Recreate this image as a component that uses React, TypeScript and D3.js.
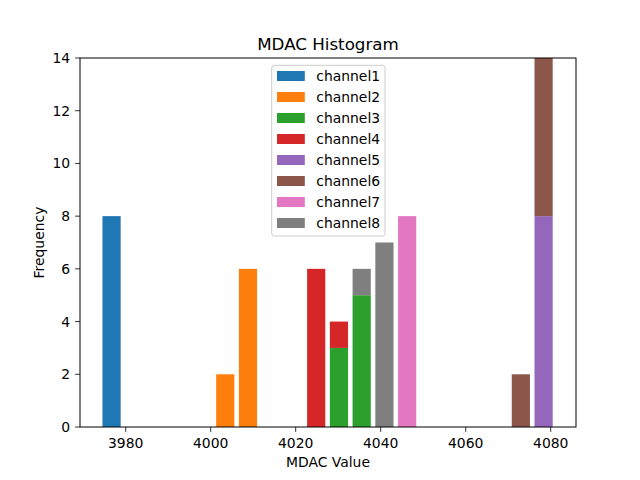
import * as d3 from "d3";

// histogram bin edges (20 bins)
const binEdges = [
  3974.0, 3979.35, 3984.7, 3990.05, 3995.4, 4000.75, 4006.1, 4011.45, 4016.8, 4022.15, 4027.5,
  4032.85, 4038.2, 4043.55, 4048.9, 4054.25, 4059.6, 4064.95, 4070.3, 4075.65, 4081.0,
];

const channels = [
  "channel1",
  "channel2",
  "channel3",
  "channel4",
  "channel5",
  "channel6",
  "channel7",
  "channel8",
];

// counts per bin for each channel
const channel1 = [8, 0, 0, 0, 0, 0, 0, 0, 0, 0, 0, 0, 0, 0, 0, 0, 0, 0, 0, 0];
const channel2 = [0, 0, 0, 0, 0, 2, 6, 0, 0, 0, 0, 0, 0, 0, 0, 0, 0, 0, 0, 0];
const channel3 = [0, 0, 0, 0, 0, 0, 0, 0, 0, 0, 3, 5, 0, 0, 0, 0, 0, 0, 0, 0];
const channel4 = [0, 0, 0, 0, 0, 0, 0, 0, 0, 6, 1, 0, 0, 0, 0, 0, 0, 0, 0, 0];
const channel5 = [0, 0, 0, 0, 0, 0, 0, 0, 0, 0, 0, 0, 0, 0, 0, 0, 0, 0, 0, 8];
const channel6 = [0, 0, 0, 0, 0, 0, 0, 0, 0, 0, 0, 0, 0, 0, 0, 0, 0, 0, 2, 6];
const channel7 = [0, 0, 0, 0, 0, 0, 0, 0, 0, 0, 0, 0, 0, 8, 0, 0, 0, 0, 0, 0];
const channel8 = [0, 0, 0, 0, 0, 0, 0, 0, 0, 0, 0, 1, 7, 0, 0, 0, 0, 0, 0, 0];

const counts = [channel1, channel2, channel3, channel4, channel5, channel6, channel7, channel8];

const xTicks = [3980, 4000, 4020, 4040, 4060, 4080];
const yTicks = [0, 2, 4, 6, 8, 10, 12, 14];

const colors = [
  "#1f77b4",
  "#ff7f0e",
  "#2ca02c",
  "#d62728",
  "#9467bd",
  "#8c564b",
  "#e377c2",
  "#7f7f7f",
];

const W = 640;
const H = 480;
const margin = { top: 58, right: 64, bottom: 53, left: 80 };
const font = "DejaVu Sans, sans-serif";

export default function App() {
  const innerW = W - margin.left - margin.right;
  const innerH = H - margin.top - margin.bottom;

  const x = d3.scaleLinear().domain([3969.25, 4085.95]).range([0, innerW]);
  const y = d3.scaleLinear().domain([0, 14]).range([innerH, 0]);

  // one row per bin, stacked by channel
  const rows = binEdges.slice(0, -1).map((lo, i) => {
    const row: Record<string, number> = { lo, hi: binEdges[i + 1] };
    channels.forEach((c, k) => (row[c] = counts[k][i]));
    return row;
  });
  const stacked = d3.stack<Record<string, number>>().keys(channels)(rows);
  const rwidth = 0.8;

  return (
    <svg
      width={W}
      height={H}
      style={{ position: "absolute", left: 0, top: 0, background: "#fff" }}
      fontFamily={font}
    >
      <g transform={`translate(${margin.left},${margin.top})`}>
        {stacked.map((layer, k) => (
          <g key={layer.key} fill={colors[k]}>
            {layer.map((d, i) => {
              if (d[1] - d[0] <= 0) return null;
              const lo = d.data.lo;
              const hi = d.data.hi;
              const bw = (hi - lo) * rwidth;
              const cx = (lo + hi) / 2;
              return (
                <rect
                  key={i}
                  x={x(cx - bw / 2)}
                  width={x(cx + bw / 2) - x(cx - bw / 2)}
                  y={y(d[1])}
                  height={y(d[0]) - y(d[1])}
                />
              );
            })}
          </g>
        ))}

        {/* frame */}
        <rect
          x={0}
          y={0}
          width={innerW}
          height={innerH}
          fill="none"
          stroke="#000"
          strokeWidth={1}
        />

        {/* x axis */}
        {xTicks.map((t) => (
          <g key={t} transform={`translate(${x(t)},${innerH})`}>
            <line y2={4.9} stroke="#000" strokeWidth={0.8} />
            <text y={21} textAnchor="middle" fontSize={13.9} fill="#000">
              {t}
            </text>
          </g>
        ))}

        {/* y axis */}
        {yTicks.map((t) => (
          <g key={t} transform={`translate(0,${y(t)})`}>
            <line x2={-4.9} stroke="#000" strokeWidth={0.8} />
            <text x={-9.8} y={5} textAnchor="end" fontSize={13.9} fill="#000">
              {t}
            </text>
          </g>
        ))}

        {/* legend */}
        <g transform={`translate(191.7,7.3)`}>
          <rect
            x={0}
            y={0}
            width={113.3}
            height={170.7}
            rx={2.8}
            fill="#fff"
            fillOpacity={0.8}
            stroke="#cccccc"
            strokeWidth={1}
          />
          {channels.map((c, k) => (
            <g key={c} transform={`translate(0,${10.7 + k * 21})`}>
              <rect x={5.3} y={-5} width={27.8} height={10} fill={colors[k]} />
              <text x={44.6} y={5} fontSize={13.9} fill="#000">
                {c}
              </text>
            </g>
          ))}
        </g>
      </g>

      <text x={margin.left + innerW / 2} y={50} textAnchor="middle" fontSize={16.7} fill="#000">
        MDAC Histogram
      </text>
      <text x={margin.left + innerW / 2} y={467} textAnchor="middle" fontSize={13.9} fill="#000">
        MDAC Value
      </text>
      <text
        transform={`translate(44,${margin.top + innerH / 2}) rotate(-90)`}
        textAnchor="middle"
        fontSize={13.9}
        fill="#000"
      >
        Frequency
      </text>
    </svg>
  );
}
